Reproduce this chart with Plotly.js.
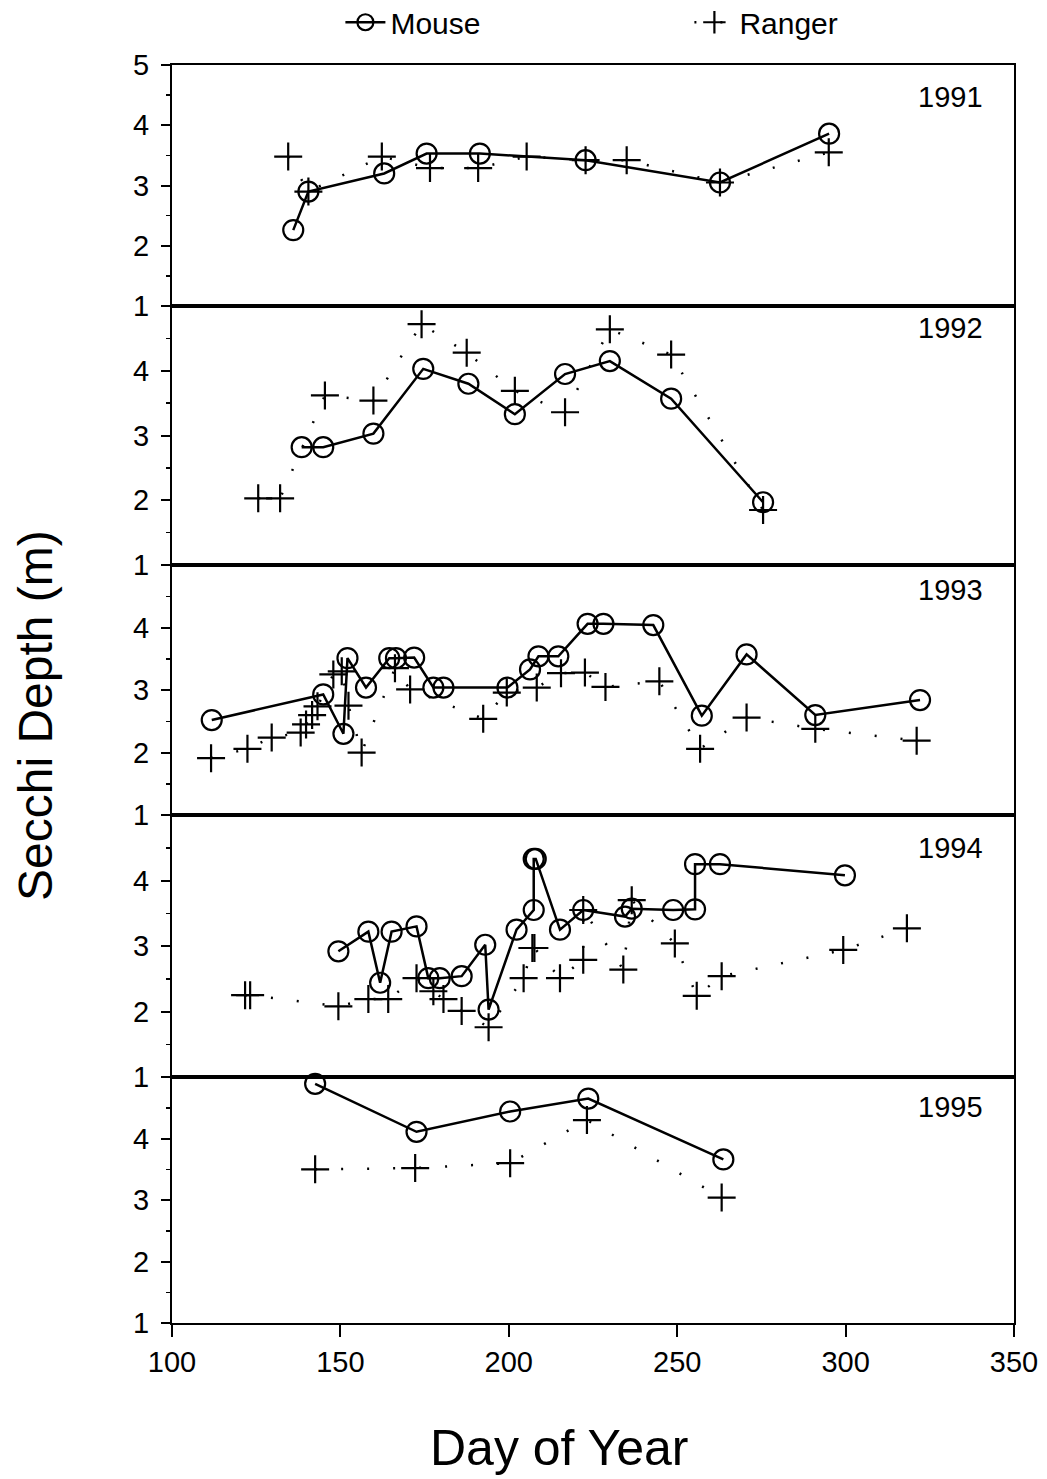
<!DOCTYPE html>
<html>
<head>
<meta charset="utf-8">
<script src="https://cdn.plot.ly/plotly-3.0.1.min.js"></script>
<style>
  html, body { margin: 0; padding: 0; background: #ffffff; }
  #chart { width: 1047px; height: 1479px; }
</style>
</head>
<body>
<div id="chart"></div>
<script>
// Secchi depth readings by day of year, Mouse vs Ranger, one panel per year
const years = ["1991", "1992", "1993", "1994", "1995"];

const mouse91Day   = [136, 140.5, 163, 175.6, 191.4, 222.8, 262.7, 295.1];
const mouse91Depth = [2.26, 2.90, 3.20, 3.53, 3.53, 3.42, 3.05, 3.86];
const ranger91Day   = [134.5, 140.5, 162.3, 176.6, 190.9, 205.3, 222.8, 235, 262.7, 295];
const ranger91Depth = [3.48, 2.90, 3.48, 3.29, 3.29, 3.48, 3.42, 3.42, 3.05, 3.55];

const mouse92Day   = [138.5, 144.9, 159.8, 174.6, 188, 201.8, 216.7, 230, 248.2, 275.5];
const mouse92Depth = [2.82, 2.82, 3.03, 4.03, 3.80, 3.33, 3.95, 4.15, 3.57, 1.97];
const ranger92Day   = [125.6, 132.1, 145.4, 159.8, 174.1, 187.5, 201.8, 216.7, 230, 248.2, 275.5];
const ranger92Depth = [2.03, 2.03, 3.62, 3.54, 4.72, 4.28, 3.69, 3.36, 4.64, 4.25, 1.85];

const mouse93Day   = [111.8, 144.9, 150.9, 152.1, 157.6, 164.5, 166.5, 171.9, 177.6, 180.6, 199.6, 206.3, 208.8, 214.7, 223.4, 228.1, 242.9, 257.3, 270.6, 291, 322.1];
const mouse93Depth = [2.52, 2.93, 2.30, 3.51, 3.04, 3.51, 3.51, 3.52, 3.04, 3.04, 3.04, 3.33, 3.54, 3.54, 4.06, 4.06, 4.04, 2.59, 3.57, 2.60, 2.84];
const ranger93Day   = [111.6, 122.4, 129.6, 138.2, 139.8, 141.6, 143.2, 147.9, 150.4, 152.4, 156.3, 166.2, 170.7, 192.4, 199.4, 208.3, 215.5, 222.6, 228.7, 244.7, 256.8, 270.6, 291, 321.1];
const ranger93Depth = [1.91, 2.06, 2.24, 2.32, 2.45, 2.60, 2.74, 3.25, 3.30, 2.75, 2.00, 3.35, 3.01, 2.54, 2.96, 3.04, 3.27, 3.28, 3.05, 3.14, 2.06, 2.56, 2.38, 2.19];

const mouse94Day   = [149.4, 158.3, 161.8, 165.2, 172.6, 176.1, 179.5, 186.0, 193.0, 194.0, 202.3, 207.4, 207.4, 208.0, 215.2, 222.1, 234.5, 236.5, 248.8, 255.3, 255.3, 262.7, 299.8];
const mouse94Depth = [2.92, 3.22, 2.44, 3.22, 3.30, 2.51, 2.51, 2.54, 3.02, 2.03, 3.25, 3.55, 4.33, 4.33, 3.25, 3.55, 3.45, 3.57, 3.55, 3.56, 4.25, 4.25, 4.08];
const ranger94Day   = [121.7, 123.2, 149.4, 158.3, 164.2, 172.6, 177.6, 180.6, 186.0, 194.0, 204.4, 207.0, 207.6, 215.2, 222.1, 222.1, 234.0, 236.5, 249.3, 255.8, 263.2, 299.3, 318.2];
const ranger94Depth = [2.25, 2.25, 2.08, 2.19, 2.19, 2.51, 2.31, 2.19, 2.01, 1.76, 2.51, 2.97, 2.97, 2.51, 2.79, 3.55, 2.64, 3.70, 3.04, 2.24, 2.54, 2.94, 3.27];

const mouse95Day   = [142.5, 172.6, 200.4, 223.6, 263.7];
const mouse95Depth = [4.89, 4.11, 4.44, 4.65, 3.66];
const ranger95Day   = [142.5, 172.2, 200.4, 223.2, 263.2];
const ranger95Depth = [3.50, 3.52, 3.60, 4.30, 3.04];

const mouseDays   = [mouse91Day, mouse92Day, mouse93Day, mouse94Day, mouse95Day];
const mouseDepths = [mouse91Depth, mouse92Depth, mouse93Depth, mouse94Depth, mouse95Depth];
const rangerDays   = [ranger91Day, ranger92Day, ranger93Day, ranger94Day, ranger95Day];
const rangerDepths = [ranger91Depth, ranger92Depth, ranger93Depth, ranger94Depth, ranger95Depth];

const xTicks = [100, 150, 200, 250, 300, 350];

const FONT = "Liberation Sans, Arial, Helvetica, sans-serif";
const INK = "#000000";

// vertical slices of the plotting area, top panel first
const domains = [[0.8084, 1.0], [0.6025, 0.8084], [0.4038, 0.6025], [0.1955, 0.4038], [0.0, 0.1955]];
// where each year label sits inside its panel (depth units)
const labelY = [4.47, 4.66, 4.60, 4.50, 4.52];

const traces = [];
const layout = {
  width: 1047,
  height: 1479,
  margin: { l: 172, r: 33, t: 65, b: 156, autoexpand: false },
  paper_bgcolor: "#ffffff",
  plot_bgcolor: "#ffffff",
  font: { family: FONT, color: INK, size: 29 },
  showlegend: true,
  legend: {
    orientation: "h",
    x: 0.200, xanchor: "left",
    y: 1.034, yanchor: "middle",
    font: { family: FONT, size: 30, color: INK },
    entrywidth: 294,
    itemwidth: 40,
    bgcolor: "rgba(0,0,0,0)"
  },
  annotations: [],
  shapes: []
};

for (let i = 0; i < 5; i++) {
  const n = i + 1;
  const xName = n === 1 ? "x" : "x" + n;
  const yName = n === 1 ? "y" : "y" + n;
  const xKey = n === 1 ? "xaxis" : "xaxis" + n;
  const yKey = n === 1 ? "yaxis" : "yaxis" + n;
  const bottom = n === 5;

  traces.push({
    type: "scatter",
    mode: "lines+markers",
    name: "Mouse",
    x: mouseDays[i],
    y: mouseDepths[i],
    xaxis: xName, yaxis: yName,
    showlegend: i === 0,
    line: { color: INK, width: 2.5 },
    marker: { symbol: "circle-open", size: 20, color: INK, line: { color: INK, width: 2.2 } },
    cliponaxis: false
  });
  traces.push({
    type: "scatter",
    mode: "lines+markers",
    name: "Ranger",
    x: rangerDays[i],
    y: rangerDepths[i],
    xaxis: xName, yaxis: yName,
    showlegend: i === 0,
    line: { color: INK, width: 2.5, dash: "2px,24px" },
    marker: { symbol: "cross-thin-open", size: 20, color: INK, line: { color: INK, width: 2.2 } },
    cliponaxis: false
  });

  layout[xKey] = {
    domain: [0, 1],
    anchor: yName,
    range: [100, 350],
    tickvals: xTicks,
    ticks: bottom ? "outside" : "",
    ticklen: 12,
    tickwidth: 2,
    tickcolor: INK,
    showticklabels: bottom,
    tickfont: { family: FONT, size: 29, color: INK },
    showgrid: false,
    zeroline: false,
    showline: true,
    linecolor: INK,
    linewidth: 2,
    mirror: true
  };
  if (n !== 1) layout[xKey].matches = "x";

  layout[yKey] = {
    domain: domains[i],
    anchor: xName,
    range: [1, 5],
    tickvals: i === 0 ? [1, 2, 3, 4, 5] : [1, 2, 3, 4],
    ticks: "outside",
    ticklen: 9,
    tickwidth: 2,
    tickcolor: INK,
    ticklabelstandoff: 6,
    tickfont: { family: FONT, size: 29, color: INK },
    minor: { dtick: 0.5, tick0: 1, ticks: "outside", ticklen: 4, tickwidth: 1.5, tickcolor: INK },
    showgrid: false,
    zeroline: false,
    showline: true,
    linecolor: INK,
    linewidth: 2,
    mirror: true
  };

  layout.annotations.push({
    xref: "paper", yref: yName,
    x: 0.9656, y: labelY[i],
    xanchor: "right", yanchor: "middle",
    text: years[i],
    showarrow: false,
    font: { family: FONT, size: 29, color: INK }
  });
}

// axis titles spanning the whole stack
layout.annotations.push({
  xref: "paper", yref: "paper",
  x: -0.1627, y: 0.4825,
  xanchor: "center", yanchor: "middle",
  textangle: -90,
  text: "Secchi Depth (m)",
  showarrow: false,
  font: { family: FONT, size: 48, color: INK }
});
layout.annotations.push({
  xref: "paper", yref: "paper",
  x: 0.46, y: -0.0994,
  xanchor: "center", yanchor: "middle",
  text: "Day of Year",
  showarrow: false,
  font: { family: FONT, size: 50, color: INK }
});

Plotly.newPlot("chart", traces, layout, { displayModeBar: false, staticPlot: true });
</script>
</body>
</html>
